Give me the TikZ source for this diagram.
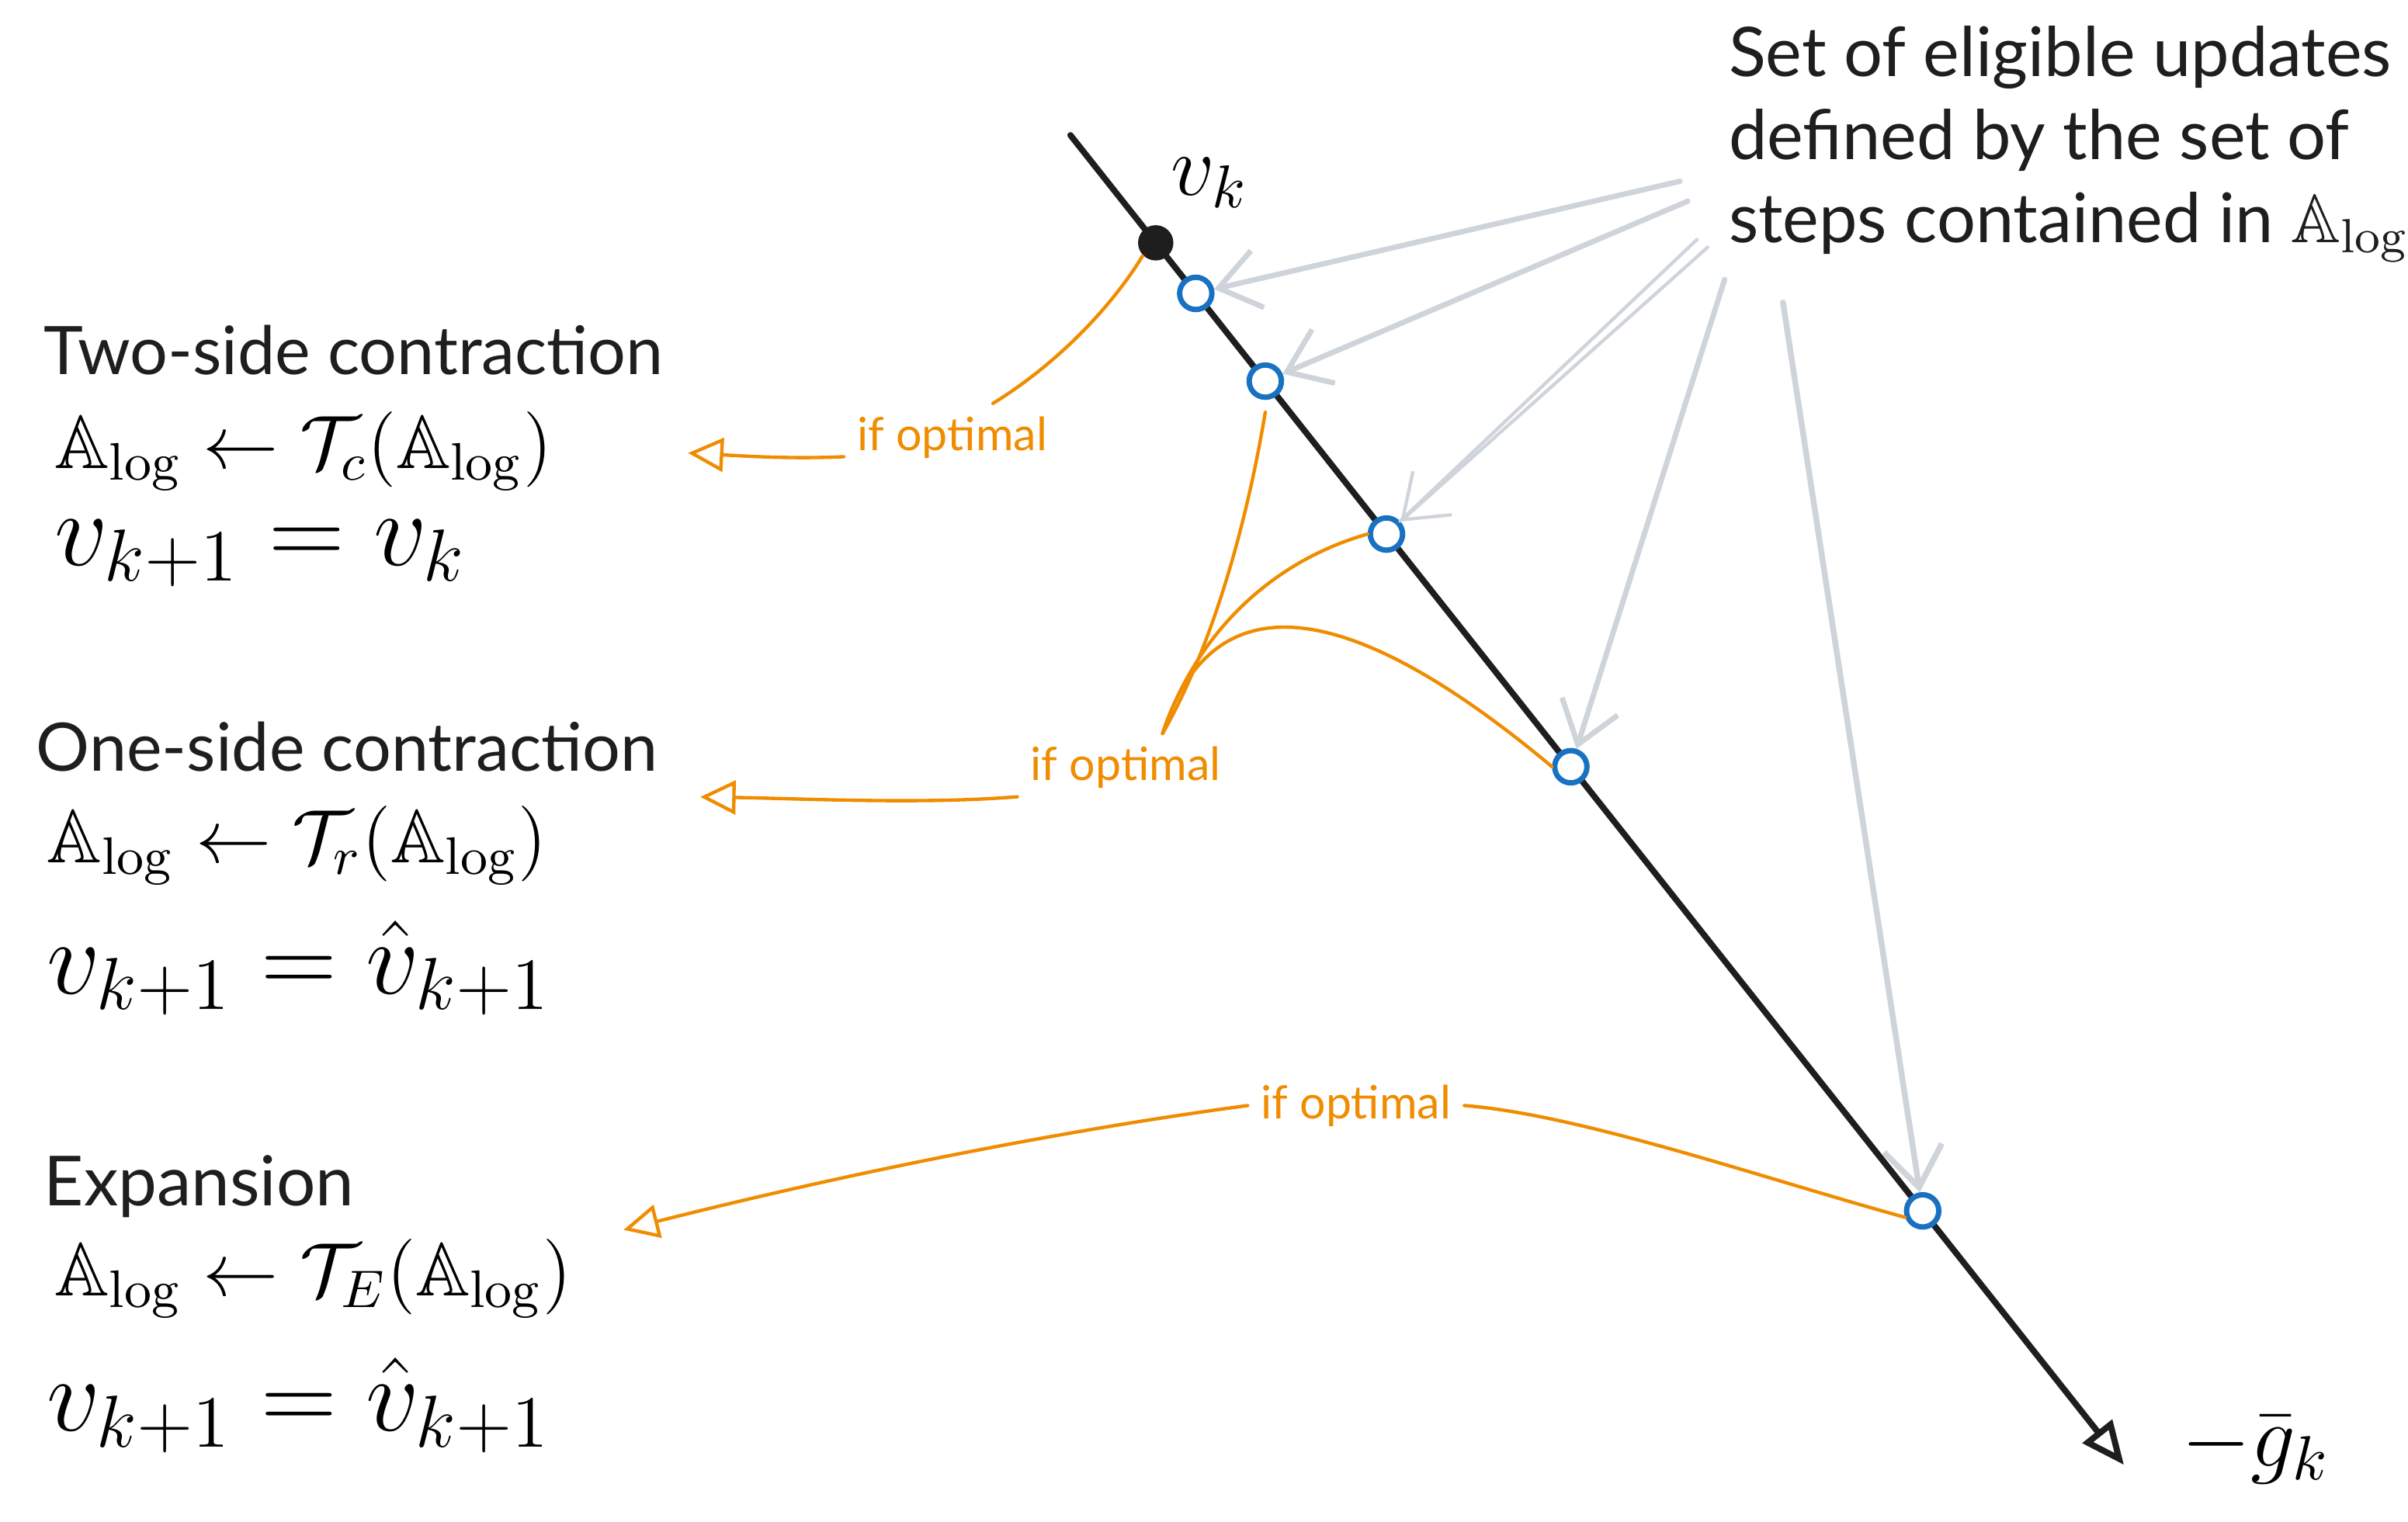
\RequirePackage{fix-cm}
\documentclass[tikz,border=0pt]{standalone}
\usepackage[no-math]{fontspec}
\DeclareFontFamily{U}{msb}{}
\DeclareFontShape{U}{msb}{m}{n}{<-6>msbm5<6-8>msbm7<8->msbm10}{}
\usepackage{amssymb}
\newfontfamily\uifont{Lato}
\usetikzlibrary{arrows.meta,calc}
\definecolor{ink}{HTML}{1E1E1E}
\definecolor{bluestroke}{HTML}{1971C2}
\definecolor{orng}{HTML}{F08C00}
\definecolor{greyarrow}{HTML}{CED4DA}
\tikzset{
 ttl/.style={font=\uifont\fontsize{12.4}{15.4}\selectfont, text=ink, inner sep=0pt, anchor=base west},
 mth/.style={font=\fontsize{14}{16}\selectfont, text=black, inner sep=0pt, anchor=base west},
 mthbig/.style={font=\fontsize{19.5}{22}\selectfont, text=black, inner sep=0pt, anchor=base west},
 cond/.style={font=\uifont\fontsize{8.5}{10}\selectfont, text=orng, inner sep=0.8mm},
 axis/.style={draw=ink, line width=0.4mm, line cap=round, -{Triangle[open,length=2.8mm,width=2.4mm]}},
 vdot/.style={circle, fill=ink, inner sep=0pt, minimum size=2.3mm},
 cand/.style={circle, draw=bluestroke, fill=white, line width=0.35mm, inner sep=0pt, minimum size=2.1mm},
 pick/.style={draw=greyarrow, line width=0.35mm, line cap=round, line join=round, -{Straight Barb[length=2.6mm,width=3.8mm]}},
 pickthin/.style={draw=greyarrow, line width=0.22mm, line cap=round},
 opt/.style={draw=orng, line width=0.22mm, line cap=round},
 optarrow/.style={opt, -{Triangle[open,length=2.3mm,width=2.2mm]}},
}
\begin{document}
\begin{tikzpicture}[x=0.1mm,y=-0.1mm]
\path[use as bounding box] (0,0) rectangle (1568,991);
% main direction
\coordinate (top) at (697,88);
\coordinate (tip) at (1383,954);
\draw[axis] (top) -- (tip);
\node[vdot] (vk) at ($(top)!0.081!(tip)$) {};
\node[cand] (c1) at ($(top)!0.119!(tip)$) {};
\node[cand] (c2) at ($(top)!0.185!(tip)$) {};
\node[cand] (c3) at ($(top)!0.300!(tip)$) {};
\node[cand] (c4) at ($(top)!0.475!(tip)$) {};
\node[cand] (c5) at ($(top)!0.809!(tip)$) {};
\node[font=\fontsize{16}{18}\selectfont, inner sep=0pt, anchor=base west] (vklab) at (762,127) {$v_k$};
\node[font=\fontsize{16.5}{19}\selectfont, inner sep=0pt, anchor=base west] (glab) at (1420,955) {$-\bar{g}_k$};
% explanatory text
\node[ttl, font=\uifont\fontsize{12.7}{15.4}\selectfont, anchor=north west, align=left] (set) at (1125,16) {Set of eligible updates\\defined by the set of\\steps contained in $\mathbb{A}_{\log}$};
\node[ttl] (two) at (28,244) {Two-side contraction};
\node[mth] (twoA) at (35,305) {$\mathbb{A}_{\log}\leftarrow\mathcal{T}_c(\mathbb{A}_{\log})$};
\node[mthbig] (twoV) at (35,368) {$v_{k+1}=v_k$};
\node[ttl] (one) at (23,502) {One-side contraction};
\node[mth] (oneA) at (30,562) {$\mathbb{A}_{\log}\leftarrow\mathcal{T}_r(\mathbb{A}_{\log})$};
\node[mthbig] (oneV) at (30,647) {$v_{k+1}=\hat{v}_{k+1}$};
\node[ttl, font=\uifont\fontsize{12.8}{15.4}\selectfont] (exp) at (28,785) {Expansion};
\node[mth] (expA) at (35,844) {$\mathbb{A}_{\log}\leftarrow\mathcal{T}_E(\mathbb{A}_{\log})$};
\node[mthbig] (expV) at (30,932) {$v_{k+1}=\hat{v}_{k+1}$};
% condition labels
\node[cond] (l1) at (620,285) {if optimal};
\node[cond] (l2) at (733,500) {if optimal};
\node[cond] (l3) at (883,720) {if optimal};
\coordinate (a1) at (448,295);
\coordinate (a2) at (456,519);
\coordinate (a3) at (406,801);
\coordinate (m2) at ($(l2.north)+(24,0)$);
% grey arrows from the text
\coordinate (s1) at (1094,118);
\coordinate (s2) at (1099,131);
\coordinate (s3a) at (1105,156);
\coordinate (s3b) at (1112,161);
\coordinate (s4) at (1123,182);
\coordinate (s5) at (1161,197);
\draw[pick] (s1) -- (c1);
\draw[pick] (s2) -- (c2);
\draw[pickthin] (s3a) -- (c3);
\draw[pick, line width=0.22mm] (s3b) -- (c3);
\draw[pick] (s4) -- (c4);
\draw[pick, line width=0.38mm] (s5) -- (c5);
% orange paths
\draw[opt] (vk.225) .. controls (725,198) and (690,236) .. (l1.40);
\draw[optarrow] (l1.190) .. controls (515,299) and (485,297) .. (a1);
\draw[opt] ($(c2.south)+(0,8)$) .. controls (812,340) and (790,420) .. (m2);
\draw[opt] (c3.west) .. controls (830,365) and (780,410) .. (m2);
\draw[opt] (c4.west) .. controls (880,390) and (790,375) .. (m2);
\draw[optarrow] (l2.195) .. controls (600,524) and (520,520) .. (a2);
\draw[opt] (c5.200) .. controls (1150,768) and (1030,726) .. (l3.east);
\draw[optarrow] (l3.west) .. controls (700,735) and (560,762) .. (a3);
\end{tikzpicture}
\end{document}
